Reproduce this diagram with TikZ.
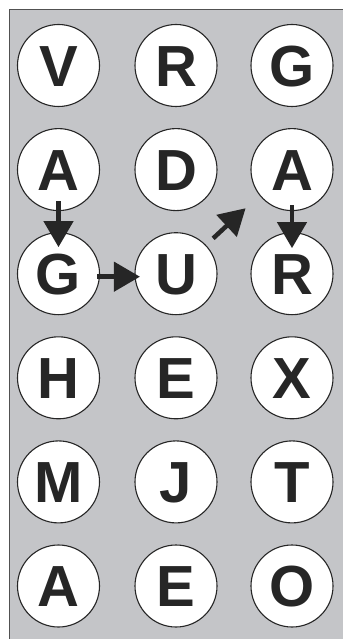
\documentclass[tikz,border=0pt]{standalone}
\usepackage{fontspec}
\setmainfont{Liberation Sans}
\usetikzlibrary{arrows.meta,calc}
\definecolor{panel}{HTML}{C4C5C8}
\definecolor{ink}{HTML}{262626}
\tikzset{
  letter/.style={circle,draw=ink,line width=1.1pt,fill=white,minimum size=82pt,inner sep=0pt,
    text=ink,font=\fontsize{58}{58}\selectfont\bfseries,text height=41.5pt,text depth=0pt},
  bigarrow/.style={draw=ink,line width=4.5pt,-{Triangle[width=29pt,length=26pt]}}
}
\begin{document}
\begin{tikzpicture}[x=1pt,y=-1pt]
\useasboundingbox (0,0) rectangle (350,639);
\fill[white] (0,0) rectangle (350,639);
\fill[panel] (9,10) rectangle (343,639);
\draw[ink!80,line width=1pt] (9,639) -- (9,10) -- (343,10);
\foreach \r/\y in {1/65.5,2/169.6,3/273.7,4/377.8,5/481.9,6/586}{
  \foreach \c/\x in {1/58.5,2/176,3/292}{
    \coordinate (p\r\c) at (\x,\y);
  }
}
\node[letter] (c11) at (p11) {V};
\node[letter] (c12) at (p12) {R};
\node[letter] (c13) at (p13) {G};
\node[letter] (c21) at (p21) {A};
\node[letter] (c22) at (p22) {D};
\node[letter] (c23) at (p23) {A};
\node[letter] (c31) at (p31) {G};
\node[letter] (c32) at (p32) {U};
\node[letter] (c33) at (p33) {R};
\node[letter] (c41) at (p41) {H};
\node[letter] (c42) at (p42) {E};
\node[letter] (c43) at (p43) {X};
\node[letter] (c51) at (p51) {M};
\node[letter] (c52) at (p52) {J};
\node[letter] (c53) at (p53) {T};
\node[letter] (c61) at (p61) {A};
\node[letter] (c62) at (p62) {E};
\node[letter] (c63) at (p63) {O};
\draw[bigarrow] ([yshift=10pt]c21.south) -- ([yshift=-15pt]c31.north);
\draw[bigarrow] ([xshift=-3pt,yshift=-3pt]c31.east) -- ([xshift=5.5pt,yshift=-3pt]c32.west);
\draw[bigarrow] ($(c32)!0.32!(c23)+(0,-2)$) -- ($(c32)!0.6!(c23)+(0,-3)$);
\draw[bigarrow] ([yshift=6pt]c23.south) -- ([yshift=-16pt]c33.north);
\end{tikzpicture}
\end{document}
